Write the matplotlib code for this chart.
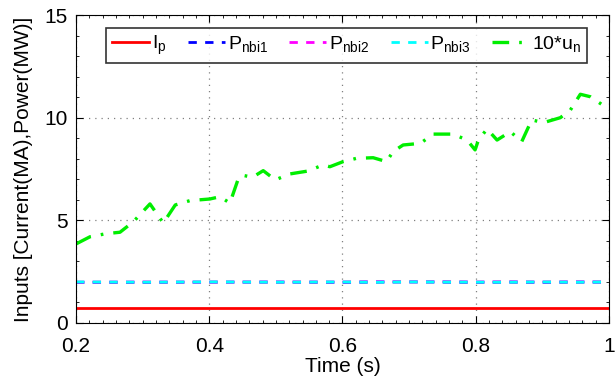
import matplotlib.pyplot as plt
from matplotlib.ticker import MultipleLocator, FormatStrFormatter

plt.rcParams['font.family'] = ['Liberation Sans', 'DejaVu Sans']
plt.rcParams['mathtext.fontset'] = 'custom'
plt.rcParams['mathtext.rm'] = 'Liberation Sans'
plt.rcParams['mathtext.it'] = 'Liberation Sans'

# 10*u_n
t_un = [0.2, 0.221, 0.245, 0.266, 0.286, 0.311, 0.331, 0.349, 0.371, 0.401, 0.416,
        0.431, 0.443, 0.449, 0.465, 0.481, 0.499, 0.521, 0.548, 0.571, 0.581, 0.601,
        0.621, 0.646, 0.666, 0.676, 0.691, 0.717, 0.736, 0.766, 0.787, 0.799, 0.804,
        0.817, 0.832, 0.852, 0.869, 0.884, 0.902, 0.927, 0.942, 0.957, 0.972, 0.994, 1.0]
un = [3.85, 4.2, 4.35, 4.42, 4.93, 5.8, 4.87, 5.75, 5.96, 6.04, 6.15,
      5.84, 6.97, 7.2, 7.1, 7.42, 6.97, 7.26, 7.4, 7.7, 7.61, 7.86,
      8.02, 8.05, 7.86, 8.35, 8.67, 8.75, 9.2, 9.2, 8.91, 8.43, 8.91,
      9.45, 8.91, 9.32, 8.83, 9.89, 9.76, 10.0, 10.37, 11.14, 11.02, 10.54, 10.5]

t_in = [0.2, 0.3, 0.4, 0.5, 0.6, 0.65, 0.7, 0.75, 0.8, 0.85, 0.9, 0.95, 1.0]
ip = [0.75, 0.75, 0.75, 0.75, 0.75, 0.75, 0.75, 0.75, 0.75, 0.75, 0.75, 0.75, 0.75]
pnbi1 = [1.98, 1.98, 1.99, 1.99, 1.98, 1.99, 2.0, 1.99, 1.98, 1.99, 1.98, 1.99, 1.99]
pnbi2 = [1.99, 2.0, 1.99, 2.0, 2.0, 2.02, 2.0, 2.02, 2.0, 2.01, 2.0, 2.01, 2.0]
pnbi3 = [2.0, 1.99, 2.0, 1.99, 2.0, 1.99, 2.0, 2.0, 1.99, 1.99, 2.0, 1.99, 2.0]

fig = plt.figure(figsize=(6.16, 3.9), dpi=100)
ax = fig.add_axes([0.1234, 0.1718, 0.8652, 0.7897])

ax.plot(t_in, ip, color='red', lw=2, label='I$_{\\rm p}$')
ax.plot(t_in, pnbi1, color='blue', lw=2, ls=(0, (3, 3)), label='P$_{\\rm nbi1}$')
ax.plot(t_in, pnbi2, color='magenta', lw=2, ls=(0, (3, 3)), label='P$_{\\rm nbi2}$')
ax.plot(t_in, pnbi3, color='cyan', lw=2, ls=(0, (3, 3)), label='P$_{\\rm nbi3}$')
ax.plot(t_un, un, color='#00ee00', lw=2.4, ls=(0, (5, 3, 0.8, 3)), label='10*u$_{\\rm n}$')

ax.set_xlim(0.2, 1.0)
ax.set_ylim(0, 15)
ax.xaxis.set_major_locator(MultipleLocator(0.2))
ax.xaxis.set_minor_locator(MultipleLocator(0.02))
ax.xaxis.set_major_formatter(FormatStrFormatter('%g'))
ax.yaxis.set_major_locator(MultipleLocator(5))
ax.yaxis.set_minor_locator(MultipleLocator(1))
ax.tick_params(which='both', direction='in', top=True, right=True, labelsize=15)
ax.tick_params(which='major', length=5)
ax.tick_params(which='minor', length=2.5)
ax.tick_params(axis='x', pad=10)
ax.tick_params(axis='y', pad=6)
ax.grid(True, which='major', ls=(0, (1, 4)), color='gray', lw=0.9)

ax.set_xlabel('Time (s)', fontsize=15, labelpad=1)
ax.set_ylabel('Inputs [Current(MA),Power(MW)]', fontsize=15, labelpad=8)

leg = ax.legend(loc='upper left', bbox_to_anchor=(0.0563, 0.834, 0.9024, 0.124),
                mode='expand', ncol=5, fontsize=14, handlelength=1.9,
                handletextpad=0.15, columnspacing=0.6,
                frameon=True, fancybox=False, edgecolor='black', borderaxespad=0,
                borderpad=0.3)
leg.get_frame().set_linewidth(1.2)

fig.savefig('out.png', dpi=100)
